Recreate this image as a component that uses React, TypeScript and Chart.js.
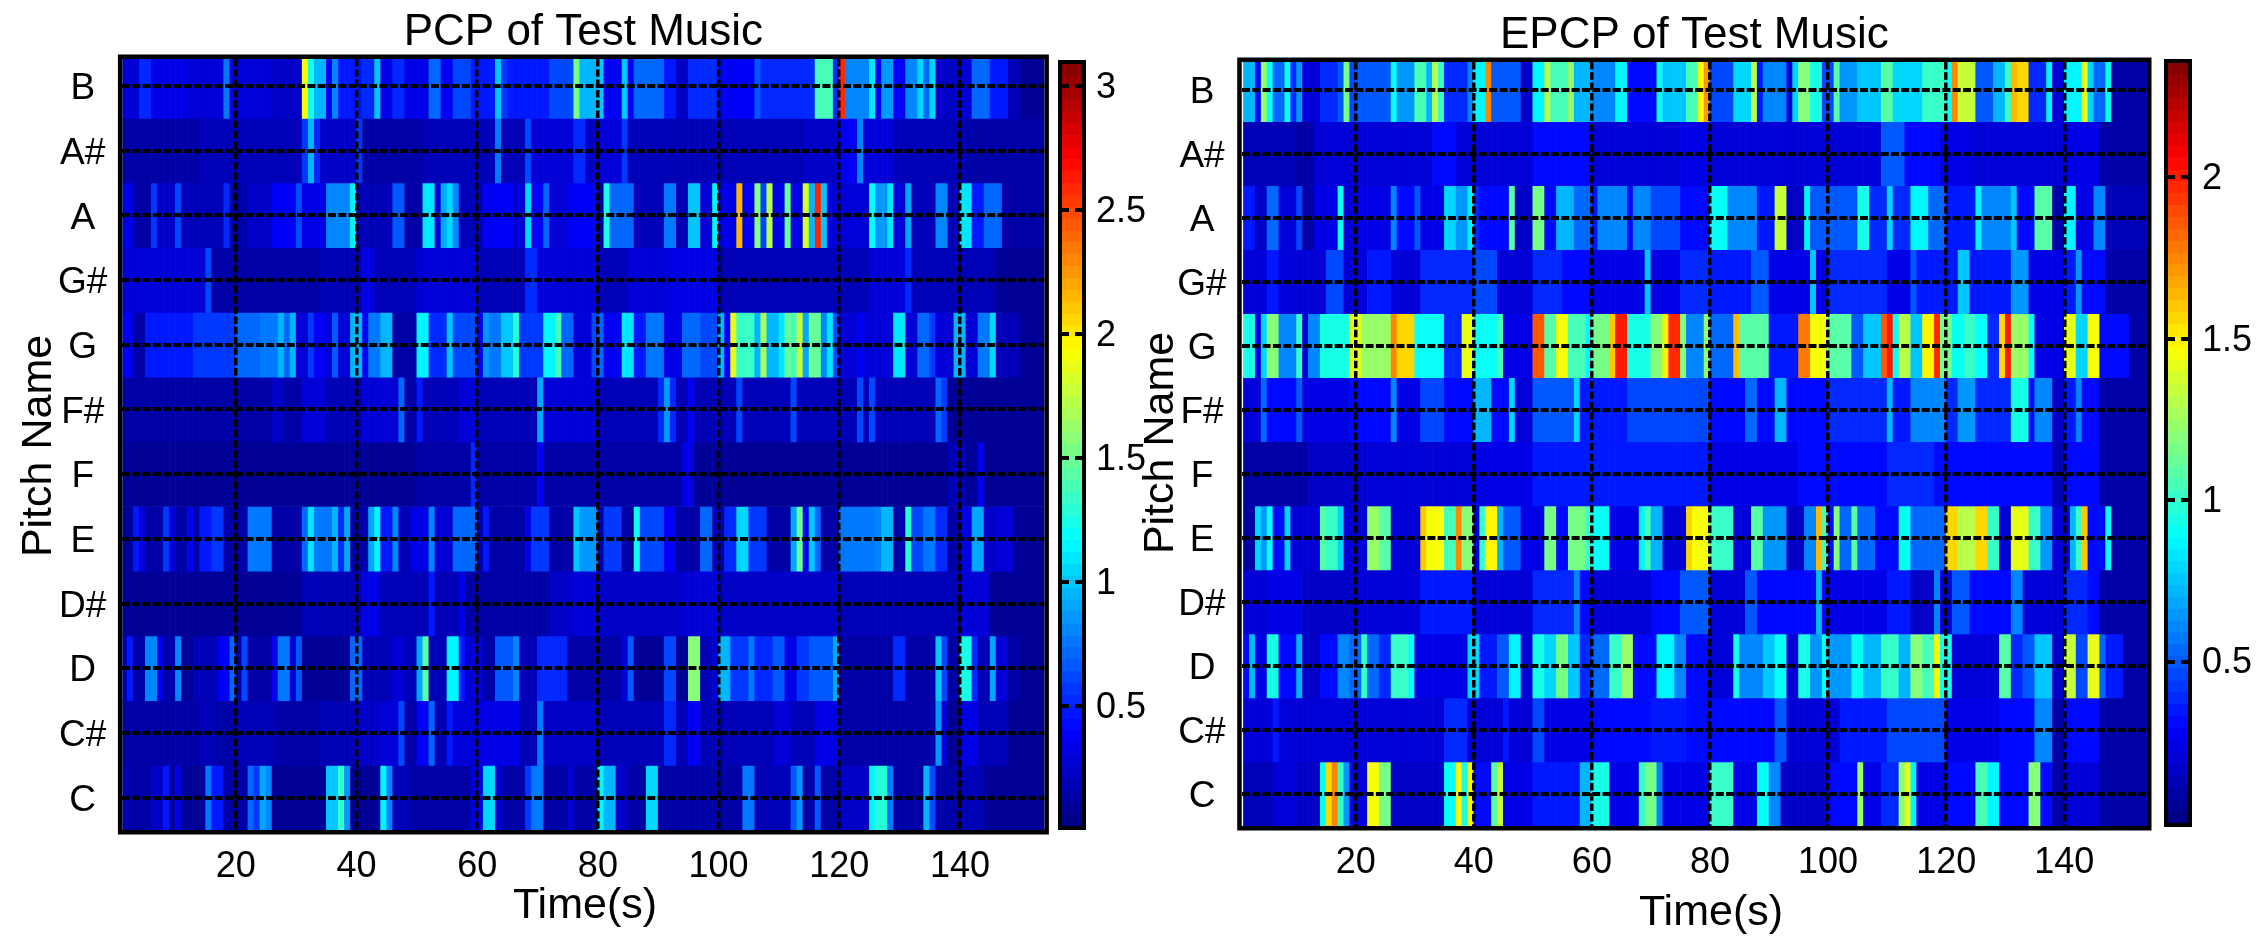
import React, { useEffect, useRef } from "react";
import { Chart, registerables } from "chart.js";

Chart.register(...registerables);

const pitchNames = ["B", "A#", "A", "G#", "G", "F#", "F", "E", "D#", "D", "C#", "C"];
const timeTicks = [20, 40, 60, 80, 100, 120, 140];
const pitchTicks = [1, 2, 3, 4, 5, 6, 7, 8, 9, 10, 11, 12];
const pcpBarTicks = [0.5, 1, 1.5, 2, 2.5, 3];
const epcpBarTicks = [0.5, 1, 1.5, 2];
const lastSecond = 154;

// Every row: second at which a level starts, level, second, level ...
const pcpB = [1,.3,4,.5,6,.35,12,.3,18,.75,19,.3,26,.25,31,1.9,32,1.25,33,.95,35,.4,36,.8,37,.45,41,.5,43,1,44,.35,46,.5,48,.35,52,.7,54,.4,56,.6,59,.45,63,1,64,.55,65,.45,72,.6,76,1.55,77,.95,80,1,81,.4,84,1,85,.4,86,.7,91,.45,93,.25,95,.5,100,.4,106,.65,107,.5,116,1.4,119,.5,120,2.6,121,.8,125,1.1,126,.4,127,.85,129,.4,131,.8,133,1.05,134,.7,135,1.05,136,.25,140,.3,142,.7,145,.45,148,.2,150,.08];
const pcpAs = [1,.12,14,.18,19,.2,31,.55,32,.95,33,.5,34,.25,40,.55,41,.15,51,.2,63,.75,64,.2,68,.6,69,.3,76,.5,78,.25,80,.3,84,.55,85,.2,100,.2,114,.25,120,.4,123,.8,124,.3,129,.2,141,.12];
const pcpA = [1,.35,3,.15,6,.55,7,.25,10,.6,11,.2,18,.5,19,.15,22,.25,26,.4,30,.6,31,.35,35,.8,39,1.15,40,.2,46,.65,48,.15,51,1.1,53,.3,54,.9,55,1.05,56,.8,57,.2,61,.4,66,.3,68,1.05,69,.4,71,.7,72,.3,75,.4,80,.1,81,1.25,82,.7,86,.2,91,.75,93,.2,95,1,97,.3,99,1.15,100,.35,103,2.15,104,.4,106,1.6,107,.6,108,1.7,109,.35,111,1.5,112,.35,114,1.8,115,.95,116,2.6,117,1,118,.3,125,1.2,126,.85,128,1.1,129,.3,131,.9,132,.2,136,.8,138,.2,140,1.1,142,.45,144,.7,147,.12];
const pcpGs = [1,.3,15,.6,16,.15,20,.12,34,.18,41,.35,43,.2,50,.3,60,.2,68,.5,70,.3,80,.2,85,.3,92,.35,100,.2,125,.3,131,.5,132,.2,146,.08];
const pcpG = [1,.37,3,.15,5,.45,13,.55,20,.7,24,.75,27,.95,28,.7,29,.95,30,.3,32,.55,33,.4,35,.3,36,.65,37,.3,39,.95,41,.4,42,.75,44,.95,46,.15,50,1.15,52,.5,55,1,56,.6,60,.4,61,.85,62,.75,64,1,66,1.3,67,.55,71,1.15,73,1.4,74,.7,76,.3,79,.6,80,.7,81,.4,84,1.1,86,.45,88,.75,91,.35,94,.7,97,.6,100,.95,101,.4,102,1.85,103,1.35,106,.95,107,1.65,108,.95,110,1.1,111,1.5,112,1.4,113,1.75,114,.9,115,1.5,117,.8,118,1.1,119,.6,120,.3,123,.4,124,.3,129,1.1,131,.3,133,.7,135,.55,136,.3,139,.95,141,.3,143,.75,145,1.05,146,.2,150,.08];
const pcpFs = [1,.12,20,.15,26,.25,28,.15,31,.3,35,.2,41,.3,47,.7,48,.15,50,.45,51,.2,57,.3,60,.2,70,.9,71,.3,80,.2,90,.5,91,.85,92,.5,93,.2,95,.4,96,.2,103,.6,104,.2,112,.6,113,.2,123,.6,124,.2,125,.6,126,.2,136,.7,137,.55,138,.1];
const pcpF = [1,.1,50,.15,59,.5,60,.12,70,.4,71,.12,94,.35,96,.1,138,.2,141,.1,143,.4,144,.1];
const pcpE = [1,.08,3,.45,4,.3,5,.12,8,.55,9,.3,10,.15,12,.4,13,.12,14,.45,16,.55,18,.12,22,.75,26,.12,31,.7,32,1.1,33,.75,36,.95,37,.5,38,.9,39,.15,42,.9,43,1.15,44,.45,46,.8,47,.2,49,.35,52,.8,53,.3,56,.7,60,.15,61,.45,62,.15,68,.35,69,.55,72,.15,76,1,77,.85,80,.15,81,.55,84,.15,86,1.2,87,.6,91,.4,93,.12,97,.7,99,.2,101,.5,103,1.05,105,.55,108,.15,112,.9,113,1.5,114,.4,115,1,116,.7,117,.15,120,.75,126,.8,127,.95,129,.12,131,1.3,132,.6,134,.75,136,.5,138,.15,140,.35,142,.9,144,.25,146,.3,149,.08];
const pcpDs = [1,.1,31,.18,41,.35,44,.2,52,.45,53,.2,57,.35,58,.15,72,.25,76,.3,80,.25,94,.3,100,.25,120,.2,140,.3,145,.1];
const pcpD = [1,.2,2,.45,3,.12,5,.8,7,.35,8,.15,10,.8,11,.1,13,.2,17,.4,19,.7,20,.15,21,.6,22,.15,26,.4,27,.75,29,.3,30,.65,31,.1,39,.7,41,.2,46,.3,48,.2,50,.9,51,1.45,52,.2,55,1.15,57,.45,58,.3,61,.12,63,.65,66,.8,67,.2,70,.5,75,.12,84,.3,85,.65,86,.1,91,.6,93,.1,95,1.6,97,.2,99,.3,100,.95,102,.55,105,.75,106,.5,109,.65,111,.35,113,.55,115,.65,119,.9,120,.15,129,.5,131,.12,136,1,137,.6,138,.15,140,1.25,142,.5,143,.2,145,.9,146,.3,148,.15,150,.08];
const pcpCs = [1,.12,14,.2,17,.12,20,.2,27,.15,34,.2,40,.25,44,.3,47,.6,48,.15,50,.4,52,.7,53,.2,55,.45,56,.3,60,.35,67,.2,70,.75,71,.25,80,.2,91,.5,93,.2,95,.4,97,.2,109,.3,112,.2,116,.35,120,.15,136,.85,137,.3,138,.1,140,.35,143,.2,148,.08];
const pcpC = [1,.2,2,.12,6,.25,8,.45,9,.1,10,.35,11,.1,15,.75,16,.45,18,.12,22,.7,23,.55,24,.9,25,.8,26,.1,35,1,37,1.35,38,.85,39,.08,44,1.15,45,.8,46,.2,49,.12,59,.35,61,1.05,63,.3,64,.12,68,.55,69,.75,71,.12,75,.3,76,.15,80,1.15,81,.95,83,.25,85,.15,88,1.05,90,.15,104,.75,106,.2,112,.65,113,.85,114,.15,116,.65,117,.15,120,.25,125,1.15,126,1.3,128,.75,129,.15,134,.95,135,.6,136,.15,140,.18,144,.08];

const epcpB = [1,.7,3,.9,3.5,.3,4,1.25,5,.9,6,.55,8,.9,9,.4,10,.65,11,.2,14,.4,17,.5,18,1.15,19,.45,20,.5,26,.9,27,.65,30,1.05,32,.7,33,1.3,34,1,35,.4,39,.6,40,.85,42,1.75,43,.5,48,.15,50,.85,52,1.3,53,1.05,56,1.25,57,.7,60,.6,64,.85,66,.3,71,.9,72,.75,76,1.05,78,1.45,79,1.7,80,.45,84,.8,87,1.3,88,.35,89,.6,93,.2,94,.8,95,1.2,97,.95,99,.45,101,1.1,102,.65,105,.75,109,1.1,111,.8,116,1,120,.9,121,1.75,122,1.35,125,.5,128,.7,130,1,131,1.65,132,1.55,134,.4,137,.85,138,.2,140,.85,143,1.4,144,.8,145,.55,147,.9,148,.1];
const epcpAs = [1,.12,10,.1,13,.2,33,.3,37,.2,50,.3,60,.2,75,.25,80,.2,109,.5,113,.3,119,.25,124,.2,140,.25,146,.1];
const epcpA = [1,.35,3,.15,5,.55,7,.2,10,.45,11,.1,13,.25,17,.9,18,.2,20,.25,26,.6,27,.3,30,.5,31,.25,35,.8,37,.65,39,.85,40,.4,41,.3,46,1.1,47,.15,50,1.15,52,.3,54,.7,57,.55,60,.35,61,.6,66,.3,67,.6,70,.45,75,.3,80,.9,83,.6,88,.35,91,1.35,93,.15,96,.85,97,.5,100,.5,105,.95,107,.4,110,.8,111,.4,114,.85,117,.55,120,.35,125,.85,126,.6,131,.75,132,.3,135,1.1,138,.1,140,.85,142,.25,145,.6,147,.12];
const epcpGs = [1,.2,5,.35,7,.2,15,.45,18,.2,22,.35,26,.2,31,.4,40,.45,44,.2,50,.4,55,.3,60,.25,69,.75,70,.25,75,.4,80,.35,87,.5,90,.25,97,.75,98,.25,100,.4,110,.25,114,.5,115,.35,122,.75,124,.35,131,.65,134,.25,140,.35,142,.65,143,.3,147,.1];
const epcpG = [1,.95,3,.25,4,.8,5,1.2,7,.6,10,1,11,.2,12,.6,14,.95,19,1.4,21,1.25,26,1.75,27,1.55,30,.9,35,.4,38,1.4,40,.9,44,1.05,45,.25,50,1.85,52,1.1,54,1.45,56,1.05,59,.85,60,1.15,63,1.6,64,2,66,.95,70,1.2,72,1.5,73,1.95,75,1.2,76,.6,79,1.25,80,.55,84,1.65,85,1.1,90,.35,95,1.8,97,1.45,100,1.1,104,.5,106,.75,109,1.85,110,2,111,.9,112,1.3,114,.75,116,1.5,118,1.95,119,1.15,121,.9,123,1,125,.9,127,.4,129,1.55,130,2,131,1.25,134,.9,135,.25,140,1.4,142,.8,144,1.45,146,.3,151,.1];
const epcpFs = [1,.2,4,.55,5,.3,10,.5,11,.25,19,.3,26,.6,27,.25,31,.45,35,.3,40,.7,43,.3,46,.8,47,.2,50,.5,57,.8,58,.35,66,.45,80,.3,86,.55,88,.3,91,.7,93,.3,100,.4,110,.7,111,.35,114,.6,120,.4,122,.65,125,.4,131,.95,134,.3,135,.6,138,.15,140,.35,142,.6,143,.3,146,.1];
const epcpF = [1,.1,12,.15,21,.2,40,.25,50,.35,80,.25,95,.3,110,.4,118,.3,138,.12,140,.3,146,.1];
const epcpE = [1,.1,3,.8,4,.65,5,.9,6,.3,8,.8,9,.2,14,1.1,15,1,17,.8,18,.2,22,1.25,24,1.1,26,.2,31,1.6,32,1.45,35,1.05,37,1.75,38,1.2,40,.25,41,1,42,1.5,44,.7,45,.5,48,.25,52,1.15,54,.3,56,1.15,59,1,60,.9,63,.25,68,.85,69,1.05,70,.7,72,.2,76,1.55,77,1.45,80,1,84,.2,87,1.1,89,.65,93,.15,96,.6,98,1.65,99,1.05,100,.3,101,1.2,102,.55,104,1.1,105,.55,108,.3,112,.9,114,.55,120,1.55,122,1.3,125,1.55,127,1,129,.2,131,1.4,134,1,136,.65,138,.2,141,.7,142,1,143,1.6,144,.3,147,.9,148,.1];
const epcpDs = [1,.2,5,.25,11,.15,20,.2,31,.35,40,.2,50,.4,57,.6,58,.3,60,.2,70,.3,75,.5,80,.2,86,.5,88,.3,98,.7,99,.3,100,.25,110,.35,114,.18,118,.6,119,.2,121,.5,124,.3,131,.6,133,.2,140,.4,144,.3,146,.1];
const epcpD = [1,.3,2,.7,3,.25,5,.95,7,.3,10,.7,11,.15,14,.3,17,.6,19,.55,21,1,22,.55,24,.4,26,1,29,.9,30,.25,39,.8,41,.35,44,.5,46,.85,48,.2,50,.95,52,.8,54,1.15,56,.75,58,.4,60,.55,63,1,65,1.25,67,.3,71,.85,74,.6,76,.3,80,.2,84,.95,85,.6,89,.75,91,.9,93,.2,95,.95,97,.65,99,.9,100,.65,104,.9,106,.7,109,1,112,.7,114,1.2,116,1.05,118,1.45,119,.95,121,.2,129,1.1,131,.4,133,.5,135,.75,138,.15,140,1.35,142,.45,144,1.4,146,.55,147,.35,150,.1];
const epcpCs = [1,.2,6,.35,7,.22,35,.4,39,.2,45,.35,46,.2,50,.45,52,.25,60,.3,70,.35,76,.3,81,.3,91,.5,93,.2,102,.35,110,.45,120,.25,129,.3,135,.6,138,.1,140,.3,146,.1];
const epcpC = [1,.12,6,.2,10,.15,14,.9,15,1.55,16,1.75,17,1,18,.65,19,.2,22,1.45,24,1.15,26,.15,35,.9,37,1.5,38,.95,39,1.5,40,.3,43,1.1,44,1.35,45,.25,50,.35,58,.7,60,.95,63,.25,68,1,69,1.15,71,.6,72,.25,80,1,84,.25,88,.9,90,.6,92,.15,100,.3,105,1.25,106,.25,109,.4,112,1.2,113,1.4,114,.85,115,.25,120,.3,125,1.05,127,.85,129,.3,134,1.2,136,.3,138,.1,140,.2,146,.1];

const pcpRows = [pcpB, pcpAs, pcpA, pcpGs, pcpG, pcpFs, pcpF, pcpE, pcpDs, pcpD, pcpCs, pcpC];
const epcpRows = [epcpB, epcpAs, epcpA, epcpGs, epcpG, epcpFs, epcpF, epcpE, epcpDs, epcpD, epcpCs, epcpC];

const FONT = "'Liberation Sans', Arial, sans-serif";

function jet(level: number) {
  const t = (level + 0.5) / 64;
  const c = (v: number) => Math.round(255 * Math.max(0, Math.min(1, v)));
  const r = c(Math.min(4 * t - 1.5, -4 * t + 4.5));
  const g = c(Math.min(4 * t - 0.5, -4 * t + 3.5));
  const b = c(Math.min(4 * t + 0.5, -4 * t + 2.5));
  return `rgb(${r},${g},${b})`;
}

const levelOf = (v: number, lo: number, hi: number) =>
  Math.max(0, Math.min(63, Math.floor(((v - lo) / (hi - lo)) * 64)));

const framePlugin = (width: number) => ({
  id: "frame",
  afterDraw(chart: any) {
    const { left, top, right, bottom } = chart.chartArea;
    const ctx = chart.ctx;
    ctx.save();
    ctx.strokeStyle = "#000";
    ctx.lineWidth = width;
    ctx.strokeRect(left - width / 2, top - width / 2, right - left + width, bottom - top + width);
    ctx.restore();
  },
});

const axisTextPlugin = (xText: string, xAt: number[], yText: string, yAt: number[]) => ({
  id: "axisText",
  afterDraw(chart: any) {
    const ctx = chart.ctx;
    ctx.save();
    ctx.fillStyle = "#000";
    ctx.font = `43px ${FONT}`;
    ctx.textAlign = "center";
    ctx.textBaseline = "alphabetic";
    ctx.fillText(xText, xAt[0], xAt[1]);
    ctx.translate(yAt[0], yAt[1]);
    ctx.rotate(-Math.PI / 2);
    ctx.fillText(yText, 0, 0);
    ctx.restore();
  },
});

type HeatCfg = {
  rows: number[][];
  title: string;
  left: number;
  right: number;
  bottom: number;
  xMin: number;
  yMin: number;
  vLo: number;
  vHi: number;
  xAt: number[];
  yAt: number[];
  titlePad: { top: number; bottom: number };
  tickPad: number;
};

function heatChart(canvas: HTMLCanvasElement, cfg: HeatCfg) {
  const datasets = cfg.rows.map((runs, r) => {
    const data: any[] = [];
    const colors: string[] = [];
    for (let k = 0; k < runs.length; k += 2) {
      const end = k + 2 < runs.length ? runs[k + 2] : lastSecond;
      for (let s = Math.floor(runs[k]); s < Math.floor(end); s++) {
        data.push({ x: s + 0.5, y: [r + 0.5, r + 1.5] });
        colors.push(jet(levelOf(runs[k + 1], cfg.vLo, cfg.vHi)));
      }
    }
    return {
      label: pitchNames[r],
      data,
      backgroundColor: colors,
      borderWidth: 0,
      grouped: false,
      barPercentage: 1,
      categoryPercentage: 1,
    };
  });
  return new Chart(canvas, {
    type: "bar",
    data: { datasets },
    plugins: [framePlugin(4.5), axisTextPlugin("Time(s)", cfg.xAt, "Pitch Name", cfg.yAt)],
    options: {
      animation: false,
      responsive: false,
      devicePixelRatio: 1,
      layout: { padding: { left: 0, top: 0, right: 2265 - cfg.right, bottom: 0 } },
      plugins: {
        legend: { display: false },
        tooltip: { enabled: false },
        title: {
          display: true,
          fullSize: false,
          text: cfg.title,
          color: "#000",
          font: { family: FONT, size: 44, weight: "normal", lineHeight: 1 },
          padding: cfg.titlePad,
        },
      },
      scales: {
        x: {
          type: "linear",
          offset: false,
          min: cfg.xMin,
          max: lastSecond,
          afterBuildTicks(scale: any) {
            scale.ticks = timeTicks.map((value) => ({ value }));
          },
          afterFit(scale: any) {
            scale.height = 950 - cfg.bottom;
          },
          grid: { offset: false, z: 1, color: "#000", lineWidth: 3.5, drawTicks: false },
          border: { display: false, dash: [7.5, 2.8] },
          ticks: {
            color: "#000",
            font: { family: FONT, size: 36 },
            padding: 15,
            autoSkip: false,
            maxRotation: 0,
            callback: (v: any) => String(v),
          },
        },
        y: {
          type: "linear",
          reverse: true,
          min: cfg.yMin,
          max: 12.5,
          afterBuildTicks(scale: any) {
            scale.ticks = pitchTicks.map((value) => ({ value }));
          },
          afterFit(scale: any) {
            scale.width = cfg.left;
          },
          grid: { z: 1, color: "#000", lineWidth: 4, drawTicks: false },
          border: { display: false, dash: [8, 2.3] },
          ticks: {
            color: "#000",
            font: { family: FONT, size: 37 },
            padding: cfg.tickPad,
            crossAlign: "center",
            labelOffset: 3,
            autoSkip: false,
            callback: (v: any) => pitchNames[Number(v) - 1],
          },
        },
      },
    },
  } as any);
}

function barChart(canvas: HTMLCanvasElement, left: number, right: number, top: number, bottom: number, lo: number, hi: number, ticksAt: number[]) {
  const datasets = Array.from({ length: 64 }, (_, l) => ({
    label: "level",
    data: [[lo + ((hi - lo) * l) / 64, lo + ((hi - lo) * (l + 1)) / 64]],
    backgroundColor: jet(l),
    borderWidth: 0,
    grouped: false,
    barPercentage: 1,
    categoryPercentage: 1,
  }));
  return new Chart(canvas, {
    type: "bar",
    data: { labels: [""], datasets },
    plugins: [framePlugin(4)],
    options: {
      animation: false,
      responsive: false,
      devicePixelRatio: 1,
      layout: { padding: { left, top, right: 0, bottom: 950 - bottom } },
      plugins: { legend: { display: false }, tooltip: { enabled: false }, title: { display: false } },
      scales: {
        x: { display: false },
        y: {
          position: "right",
          min: lo,
          max: hi,
          afterBuildTicks(scale: any) {
            scale.ticks = ticksAt.map((value) => ({ value }));
          },
          afterFit(scale: any) {
            scale.width = 2265 - right;
          },
          grid: { z: 1, color: "#000", lineWidth: 4, drawTicks: false },
          border: { display: false, dash: [7, 6] },
          ticks: {
            color: "#000",
            font: { family: FONT, size: 36 },
            padding: 14,
            labelOffset: 2,
            autoSkip: false,
            callback: (v: any) => String(v),
          },
        },
      },
    },
  } as any);
}

export default function App() {
  const a = useRef<HTMLCanvasElement>(null);
  const b = useRef<HTMLCanvasElement>(null);
  const c = useRef<HTMLCanvasElement>(null);
  const d = useRef<HTMLCanvasElement>(null);
  useEffect(() => {
    const charts = [
      heatChart(a.current!, {
        rows: pcpRows, title: "PCP of Test Music", left: 122.4, right: 1044.4, bottom: 830,
        xMin: 1.2, yMin: 0.583, vLo: 0.016, vHi: 3.09, xAt: [585, 918], yAt: [51, 446],
        titlePad: { top: 11, bottom: 4 }, tickPad: 15,
      }),
      barChart(b.current!, 1062, 1082, 64, 826, 0.016, 3.09, pcpBarTicks),
      heatChart(c.current!, {
        rows: epcpRows, title: "EPCP of Test Music", left: 1241.7, right: 2147, bottom: 826,
        xMin: 0.7, yMin: 0.57, vLo: 0, vHi: 2.354, xAt: [1711, 925], yAt: [1173, 443],
        titlePad: { top: 14, bottom: 4 }, tickPad: 15,
      }),
      barChart(d.current!, 2168, 2188, 63, 823, 0, 2.354, epcpBarTicks),
    ];
    return () => charts.forEach((ch) => ch.destroy());
  }, []);
  const base: React.CSSProperties = { position: "absolute", left: 0, top: 0 };
  return (
    <div style={{ position: "absolute", left: 0, top: 0, width: 2265, height: 950, background: "#fff", overflow: "hidden" }}>
      <canvas ref={a} width={2265} height={950} style={base} />
      <canvas ref={b} width={2265} height={950} style={base} />
      <canvas ref={c} width={2265} height={950} style={base} />
      <canvas ref={d} width={2265} height={950} style={base} />
    </div>
  );
}
